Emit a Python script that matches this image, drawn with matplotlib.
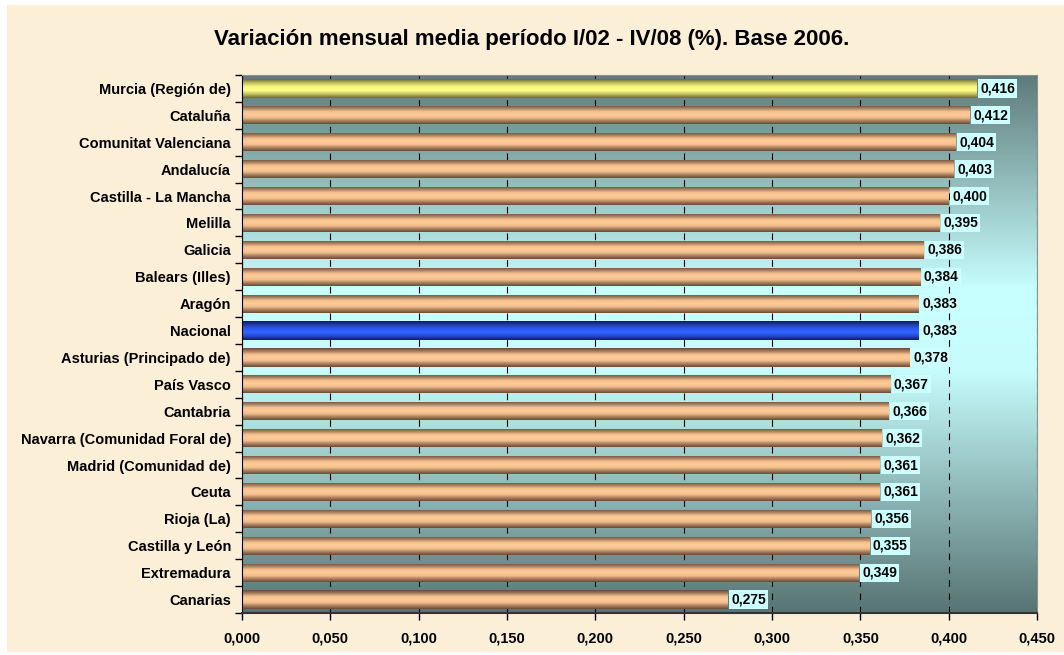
import numpy as np
import matplotlib.pyplot as plt
from matplotlib.colors import LinearSegmentedColormap
from matplotlib.patches import Rectangle
from matplotlib.ticker import FuncFormatter, FixedLocator

plt.rcParams["font.family"] = ["Liberation Sans", "DejaVu Sans"]
plt.rcParams["font.weight"] = "bold"

regions = [
    "Murcia (Región de)", "Cataluña", "Comunitat Valenciana", "Andalucía",
    "Castilla - La Mancha", "Melilla", "Galicia", "Balears (Illes)", "Aragón",
    "Nacional", "Asturias (Principado de)", "País Vasco", "Cantabria",
    "Navarra (Comunidad Foral de)", "Madrid (Comunidad de)", "Ceuta",
    "Rioja (La)", "Castilla y León", "Extremadura", "Canarias",
]
values = [0.416, 0.412, 0.404, 0.403, 0.400, 0.395, 0.386, 0.384, 0.383,
          0.383, 0.378, 0.367, 0.366, 0.362, 0.361, 0.361, 0.356, 0.355,
          0.349, 0.275]
x_ticks = [0.0, 0.05, 0.10, 0.15, 0.20, 0.25, 0.30, 0.35, 0.40, 0.45]

peach = LinearSegmentedColormap.from_list(
    "peach", ["#6a4c34", "#a8805e", "#f2be8c", "#ffcc99", "#f5c18e", "#a8805e", "#6a4c34"])
yellow = LinearSegmentedColormap.from_list(
    "yellow", ["#6c6c34", "#c0c060", "#ffff88", "#f8f880", "#c0c060", "#6c6c34"])
blue = LinearSegmentedColormap.from_list(
    "blue", ["#101c60", "#2448d0", "#3366ff", "#2c58f0", "#2040b0", "#101c60"])
bg = LinearSegmentedColormap.from_list(
    "bg", [(0.0, "#587474"), (0.45, "#c6fcfc"), (0.6, "#c8ffff"), (1.0, "#5f7b7b")])

fig = plt.figure(figsize=(10.64, 6.55), dpi=100, facecolor="white")
fig.patches.append(Rectangle((7 / 1064, 3 / 655), 1, 1 - 8 / 655,
                             transform=fig.transFigure, facecolor="#fbefd8",
                             edgecolor="none", zorder=-10))

ax = fig.add_axes([242 / 1064, 1 - 613 / 655, (1037 - 242) / 1064, (613 - 75) / 655])
ax.patch.set_alpha(0)

n = len(regions)
ypos = np.arange(n)[::-1]

ax.imshow(np.linspace(0, 1, 256).reshape(-1, 1), cmap=bg, origin="lower",
          extent=[0, 1, 0, 1], transform=ax.transAxes, aspect="auto", zorder=0.1)

bars = ax.barh(ypos, values, height=0.68, color="#f5c18e", zorder=2)
grad = np.linspace(0, 1, 64).reshape(-1, 1)
for name, bar in zip(regions, bars):
    cmap = yellow if name.startswith("Murcia") else blue if name == "Nacional" else peach
    x0, y0 = bar.get_x(), bar.get_y()
    im = ax.imshow(grad, cmap=cmap, origin="lower", aspect="auto",
                   extent=[x0, x0 + bar.get_width(), y0, y0 + bar.get_height()],
                   zorder=2.1)
    im.set_clip_path(bar)

for y, v in zip(ypos, values):
    ax.text(v + 0.002, y, f"{v:.3f}".replace(".", ","), va="center", ha="left",
            fontsize=10, fontweight="bold", zorder=3,
            bbox=dict(boxstyle="square,pad=0.15", facecolor="#ccffff", edgecolor="none"))

ax.set_xlim(0, 0.45)
ax.set_ylim(-0.5, n - 0.5)
ax.set_xticks(x_ticks)
ax.xaxis.set_major_formatter(FuncFormatter(lambda v, p: f"{v:.3f}".replace(".", ",")))
ax.set_yticks(ypos)
ax.set_yticklabels(regions)
ax.yaxis.set_minor_locator(FixedLocator(np.arange(n + 1) - 0.5))
ax.tick_params(axis="y", which="major", length=0, pad=8, labelsize=10.5)
ax.tick_params(axis="y", which="minor", length=5, width=1, color="black")
ax.tick_params(axis="x", length=5, width=1, pad=8, labelsize=10.5)

ax.set_axisbelow(True)
ax.xaxis.grid(True, color="black", linestyle=(0, (6, 6)), linewidth=0.8, zorder=0.5)

ax.spines["left"].set_color("black")
ax.spines["bottom"].set_color("#333333")
ax.spines["bottom"].set_linewidth(1.5)
ax.spines["top"].set_color("#909090")
ax.spines["right"].set_color("#909090")

fig.text(0.5, 1 - 40 / 655, "Variación mensual media período I/02 - IV/08 (%). Base 2006.",
         ha="center", va="center", fontsize=16, fontweight="bold")

fig.savefig("out.png", dpi=100, facecolor=fig.get_facecolor())
